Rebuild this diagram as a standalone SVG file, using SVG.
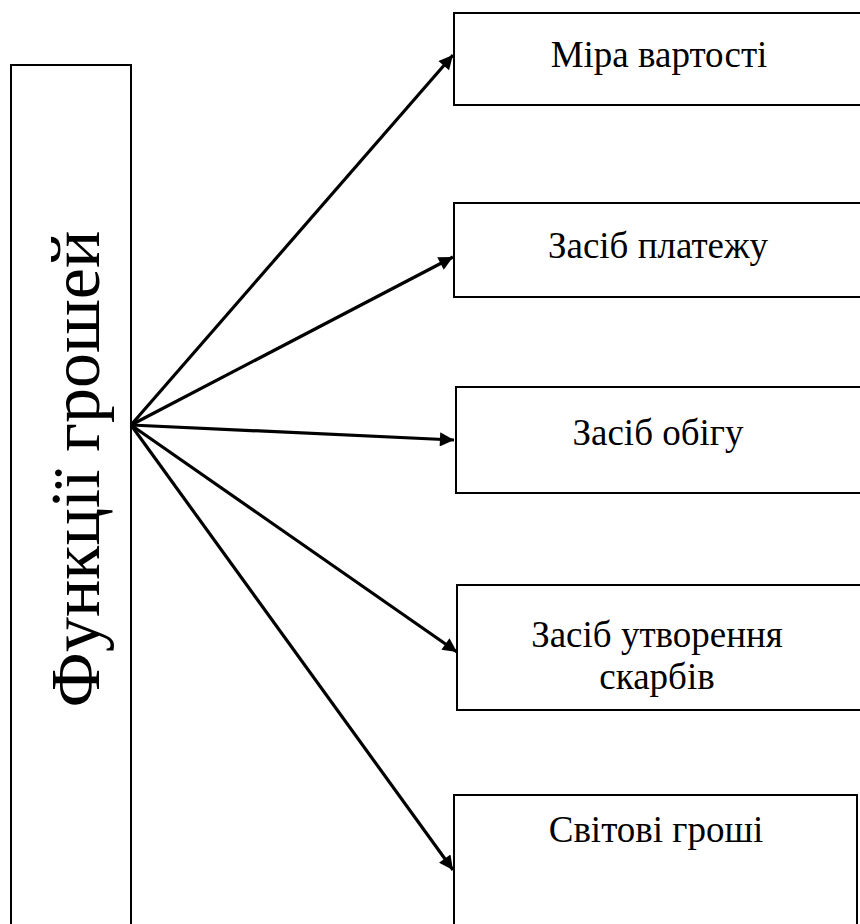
<svg xmlns="http://www.w3.org/2000/svg" width="860" height="924" viewBox="0 0 860 924">
<style>
.box{fill:#fff;stroke:#000;stroke-width:2}
.conn{stroke:#000;stroke-width:3.2;fill:none;marker-end:url(#arr)}
</style>
<defs>
<marker id="arr" viewBox="0 0 10 10" refX="10" refY="5" markerWidth="5.6" markerHeight="4.4" orient="auto" markerUnits="strokeWidth">
<path d="M0,0 L10,5 L0,10 z" fill="#000"/>
</marker>
</defs>
<rect width="860" height="924" fill="#fff"/>
<g font-family="Liberation Serif, DejaVu Serif, serif" fill="#000" text-anchor="middle">
<g id="main">
<rect class="box" x="11" y="65" width="120" height="880"/>
<text font-size="70" transform="translate(99,469) rotate(-90)">Функції грошей</text>
</g>
<g id="n1" font-size="37">
<rect class="box" x="454" y="13" width="420" height="92"/>
<text x="659" y="67">Міра вартості</text>
</g>
<g id="n2" font-size="37">
<rect class="box" x="454" y="203" width="420" height="94"/>
<text x="658" y="258">Засіб платежу</text>
</g>
<g id="n3" font-size="37">
<rect class="box" x="456" y="387" width="420" height="106"/>
<text x="658" y="445">Засіб обігу</text>
</g>
<g id="n4" font-size="37">
<rect class="box" x="457" y="585" width="420" height="125"/>
<text x="657" y="647">Засіб утворення</text>
<text x="657" y="689">скарбів</text>
</g>
<g id="n5" font-size="37">
<rect class="box" x="454" y="795" width="403" height="160"/>
<text x="656" y="842">Світові гроші</text>
</g>
</g>
<g id="connectors">
<line class="conn" x1="131" y1="425" x2="453" y2="55"/>
<line class="conn" x1="131" y1="425" x2="453" y2="257"/>
<line class="conn" x1="131" y1="425" x2="454" y2="440"/>
<line class="conn" x1="131" y1="425" x2="457" y2="652"/>
<line class="conn" x1="131" y1="425" x2="453" y2="870"/>
</g>
</svg>
